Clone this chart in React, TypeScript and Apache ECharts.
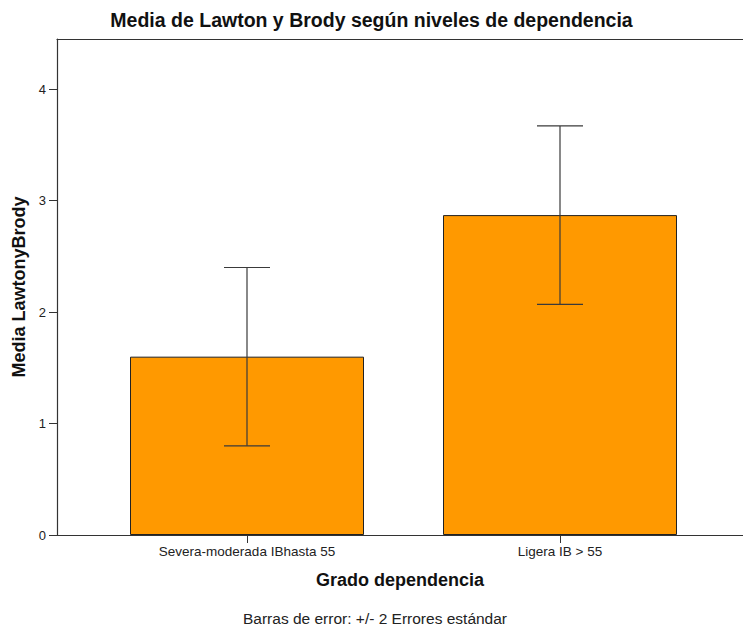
import React, { useEffect, useRef } from "react";
import * as echarts from "echarts";

const categories = ["Severa-moderada IBhasta 55", "Ligera IB > 55"];
const means = [1.6, 2.87];
const errLow = [0.8, 2.07];
const errHigh = [2.4, 3.67];
const yTicks = [0, 1, 2, 3, 4];

const FONT = "'Liberation Sans', Arial, sans-serif";

export default function App() {
  const ref = useRef<HTMLDivElement>(null);
  useEffect(() => {
    document.body.style.margin = "0";
    if (!ref.current) return;
    const chart = echarts.init(ref.current, undefined, { renderer: "svg" });
    const axisColor = "#333";
    const yMax = 4.45;
    chart.setOption({
      animation: false,
      backgroundColor: "#fff",
      textStyle: { fontFamily: FONT },
      title: {
        text: "Media de Lawton y Brody según niveles de dependencia",
        left: "center",
        top: 5,
        textStyle: { fontFamily: FONT, fontSize: 19.5, fontWeight: "bold", color: "#111" },
      },
      grid: [
        { left: 57, right: 0, top: 39, bottom: 96, outerBoundsMode: "none", containLabel: false },
        { left: 90.5, width: 626, top: 39, bottom: 96, outerBoundsMode: "none", containLabel: false },
      ],
      xAxis: [
        {
          gridIndex: 0,
          type: "value",
          min: 0,
          max: 1,
          axisLine: { show: true, onZero: false, lineStyle: { color: axisColor, width: 1.2 } },
          axisTick: { show: false },
          axisLabel: { show: false },
          splitLine: { show: false },
          name: "Grado dependencia",
          nameLocation: "middle",
          nameGap: 36,
          nameTextStyle: { fontFamily: FONT, fontSize: 18, fontWeight: "bold", color: "#111" },
        },
        {
          gridIndex: 0,
          type: "value",
          position: "top",
          min: 0,
          max: 1,
          axisLine: { show: true, onZero: false, lineStyle: { color: axisColor, width: 1.2 } },
          axisTick: { show: false },
          axisLabel: { show: false },
          splitLine: { show: false },
        },
        {
          gridIndex: 1,
          type: "category",
          data: categories,
          axisLine: { show: false },
          axisTick: { show: true, alignWithLabel: true, length: 8, lineStyle: { color: axisColor } },
          axisLabel: { fontFamily: FONT, fontSize: 13.5, color: "#222", margin: 9 },
        },
      ],
      yAxis: [
        {
          gridIndex: 0,
          type: "value",
          min: 0,
          max: yMax,
          axisLine: { show: true, onZero: false, lineStyle: { color: axisColor, width: 1.2 } },
          axisTick: { show: true, length: 8, customValues: yTicks, lineStyle: { color: axisColor } },
          axisLabel: { fontFamily: FONT, fontSize: 13, color: "#222", margin: 11, customValues: yTicks },
          splitLine: { show: false },
          name: "Media LawtonyBrody",
          nameLocation: "middle",
          nameGap: 28,
          nameTextStyle: { fontFamily: FONT, fontSize: 18, fontWeight: "bold", color: "#111" },
        },
        {
          gridIndex: 1,
          type: "value",
          min: 0,
          max: yMax,
          show: false,
        },
      ],
      series: [
        {
          type: "bar",
          xAxisIndex: 2,
          yAxisIndex: 1,
          data: means,
          barWidth: 234,
          itemStyle: { color: "#ff9900", borderColor: "#222", borderWidth: 1 },
        },
        {
          type: "custom",
          xAxisIndex: 2,
          yAxisIndex: 1,
          data: categories.map((_, i) => [i, errLow[i], errHigh[i]]),
          renderItem: (params: any, api: any) => {
            const x = api.value(0);
            const lo = api.coord([x, api.value(1)]);
            const hi = api.coord([x, api.value(2)]);
            const half = 23;
            const style = { stroke: "#3a3a3a", lineWidth: 1.2 };
            return {
              type: "group",
              children: [
                { type: "line", shape: { x1: lo[0], y1: lo[1], x2: hi[0], y2: hi[1] }, style },
                { type: "line", shape: { x1: hi[0] - half, y1: hi[1], x2: hi[0] + half, y2: hi[1] }, style },
                { type: "line", shape: { x1: lo[0] - half, y1: lo[1], x2: lo[0] + half, y2: lo[1] }, style },
              ],
            };
          },
          z: 5,
        },
      ],
      graphic: [
        {
          type: "text",
          x: 375,
          y: 618,
          style: {
            text: "Barras de error: +/- 2 Errores estándar",
            fontFamily: FONT,
            fontSize: 15.5,
            fill: "#222",
            textAlign: "center",
            textVerticalAlign: "middle",
          },
        },
      ],
    });
    return () => chart.dispose();
  }, []);
  return <div ref={ref} style={{ width: 743, height: 631 }} />;
}
